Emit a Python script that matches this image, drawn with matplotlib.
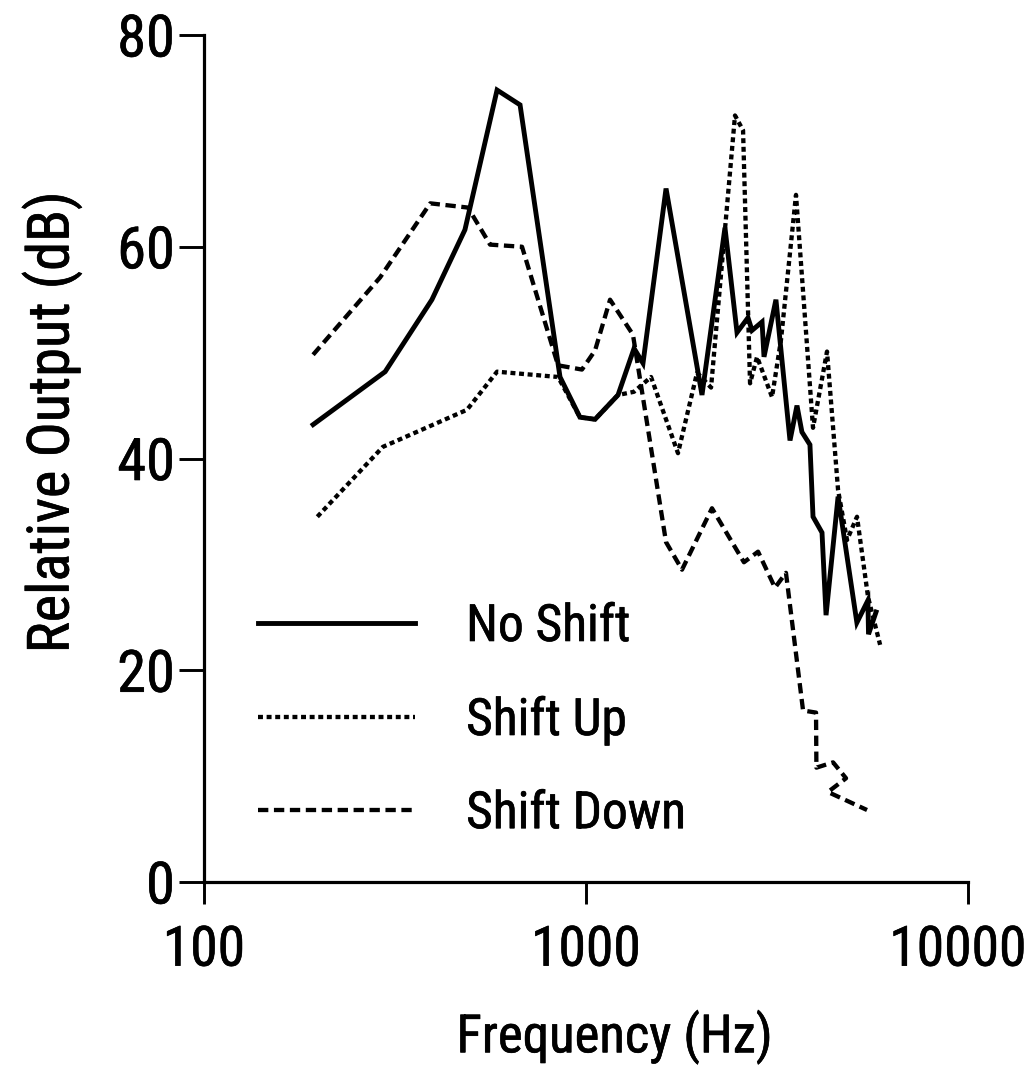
import matplotlib
matplotlib.use("Agg")
import matplotlib.pyplot as plt
import matplotlib.patheffects as pe
from matplotlib.ticker import NullLocator
from matplotlib.transforms import ScaledTranslation

# Frequency response data (Hz, dB)
freq_no_shift = [193, 298, 395, 482, 585, 672, 855, 964, 1056, 1213, 1336, 1410,
                 1620, 2012, 2311, 2485, 2655, 2720, 2890, 2924, 3142, 3420, 3567,
                 3675, 3857, 3929, 4148, 4250, 4570, 5118, 5470, 5490, 5745]
level_no_shift = [43.2, 48.2, 55.0, 61.6, 74.8, 73.4, 47.7, 43.9, 43.7, 46.0, 50.4, 49.0,
                  65.5, 46.0, 61.8, 51.9, 53.3, 52.1, 52.9, 49.6, 55.0, 41.7, 45.0,
                  42.5, 41.3, 34.5, 33.0, 25.2, 36.4, 24.5, 26.6, 23.4, 25.5]

freq_shift_up = [198, 294, 488, 585, 845, 964, 1056, 1213, 1335, 1480, 1741, 1953,
                 2125, 2455, 2577, 2688, 2804, 3069, 3239, 3546, 3929, 4275, 4570,
                 4823, 5122, 5475, 5888]
level_shift_up = [34.5, 41.1, 44.6, 48.2, 47.7, 43.9, 43.7, 46.0, 46.3, 47.7, 40.5, 48.1,
                  46.7, 72.4, 71.0, 47.1, 49.6, 45.8, 51.2, 64.9, 42.9, 50.1, 37.0,
                  32.3, 34.5, 26.9, 22.4]

freq_shift_down = [193, 289, 391, 491, 561, 680, 845, 976, 1056, 1156, 1327, 1620,
                   1784, 2137, 2591, 2821, 3124, 3338, 3700, 4001, 4010, 4434, 4794,
                   4300, 5441]
level_shift_down = [49.8, 57.1, 64.1, 63.7, 60.2, 60.0, 48.8, 48.4, 50.2, 55.0, 51.7, 32.1,
                    29.5, 35.3, 30.2, 31.2, 27.8, 29.2, 16.2, 16.0, 10.8, 11.3, 9.8,
                    8.5, 6.8]

series_labels = ["No Shift", "Shift Up", "Shift Down"]
x_ticks = [100, 1000, 10000]
x_tick_labels = ["100", "1000", "10000"]
y_ticks = [0, 20, 40, 60, 80]
y_tick_labels = ["0", "20", "40", "60", "80"]

plt.rcParams["font.family"] = ["Roboto Condensed", "DejaVu Sans"]
plt.rcParams["font.stretch"] = "condensed"
plt.rcParams["font.weight"] = "normal"

W, H = 1026, 1088
fig = plt.figure(figsize=(W / 100, H / 100), dpi=100)
ax = fig.add_axes([204 / W, (H - 882) / H, 764 / W, 847 / H])

ax.plot(freq_no_shift, level_no_shift, color="black", lw=3.5,
        solid_joinstyle="miter", label=series_labels[0])
ax.plot(freq_shift_up, level_shift_up, color="black", lw=3.1,
        dashes=(1.15, 0.85), label=series_labels[1])
ax.plot(freq_shift_down, level_shift_down, color="black", lw=3.1,
        dashes=(2.4, 1.3), label=series_labels[2])

ax.set_xscale("log")
ax.set_xlim(100, 10000)
ax.set_ylim(0, 80)
ax.set_xticks(x_ticks)
ax.set_xticklabels(x_tick_labels)
ax.xaxis.set_minor_locator(NullLocator())
ax.set_yticks(y_ticks)
ax.set_yticklabels(y_tick_labels)

for side in ("top", "right"):
    ax.spines[side].set_visible(False)
for side in ("left", "bottom"):
    ax.spines[side].set_linewidth(2.3)

ax.tick_params(axis="x", direction="out", length=16, width=2.1,
               labelsize=40, pad=14)
ax.tick_params(axis="y", direction="out", length=18, width=2.1,
               labelsize=42, pad=3)

# keep the rightmost frequency label inside the canvas
last = ax.get_xticklabels()[-1]
last.set_transform(last.get_transform() + ScaledTranslation(-10 / 100, 0, fig.dpi_scale_trans))

ax.set_xlabel("Frequency (Hz)", fontsize=38)
ax.xaxis.set_label_coords(0.537, -0.15)
ax.set_ylabel("Relative Output (dB)", fontsize=42)
ax.yaxis.set_label_coords(-0.16, 0.543)

leg = ax.legend(loc="upper left", bbox_to_anchor=(258 / W, 1 - 602 / H),
                bbox_transform=fig.transFigure, frameon=False, borderpad=0,
                borderaxespad=0, handlelength=3.05, handletextpad=1.0,
                labelspacing=0.84, fontsize=37)

# slightly heavier glyph strokes for all text
ink = [pe.withStroke(linewidth=0.45, foreground="black")]
texts = (list(ax.get_xticklabels()) + list(ax.get_yticklabels())
         + [ax.xaxis.label, ax.yaxis.label] + list(leg.get_texts()))
for t in texts:
    t.set_path_effects(ink)

fig.savefig("out.png", dpi=100, facecolor="white")
